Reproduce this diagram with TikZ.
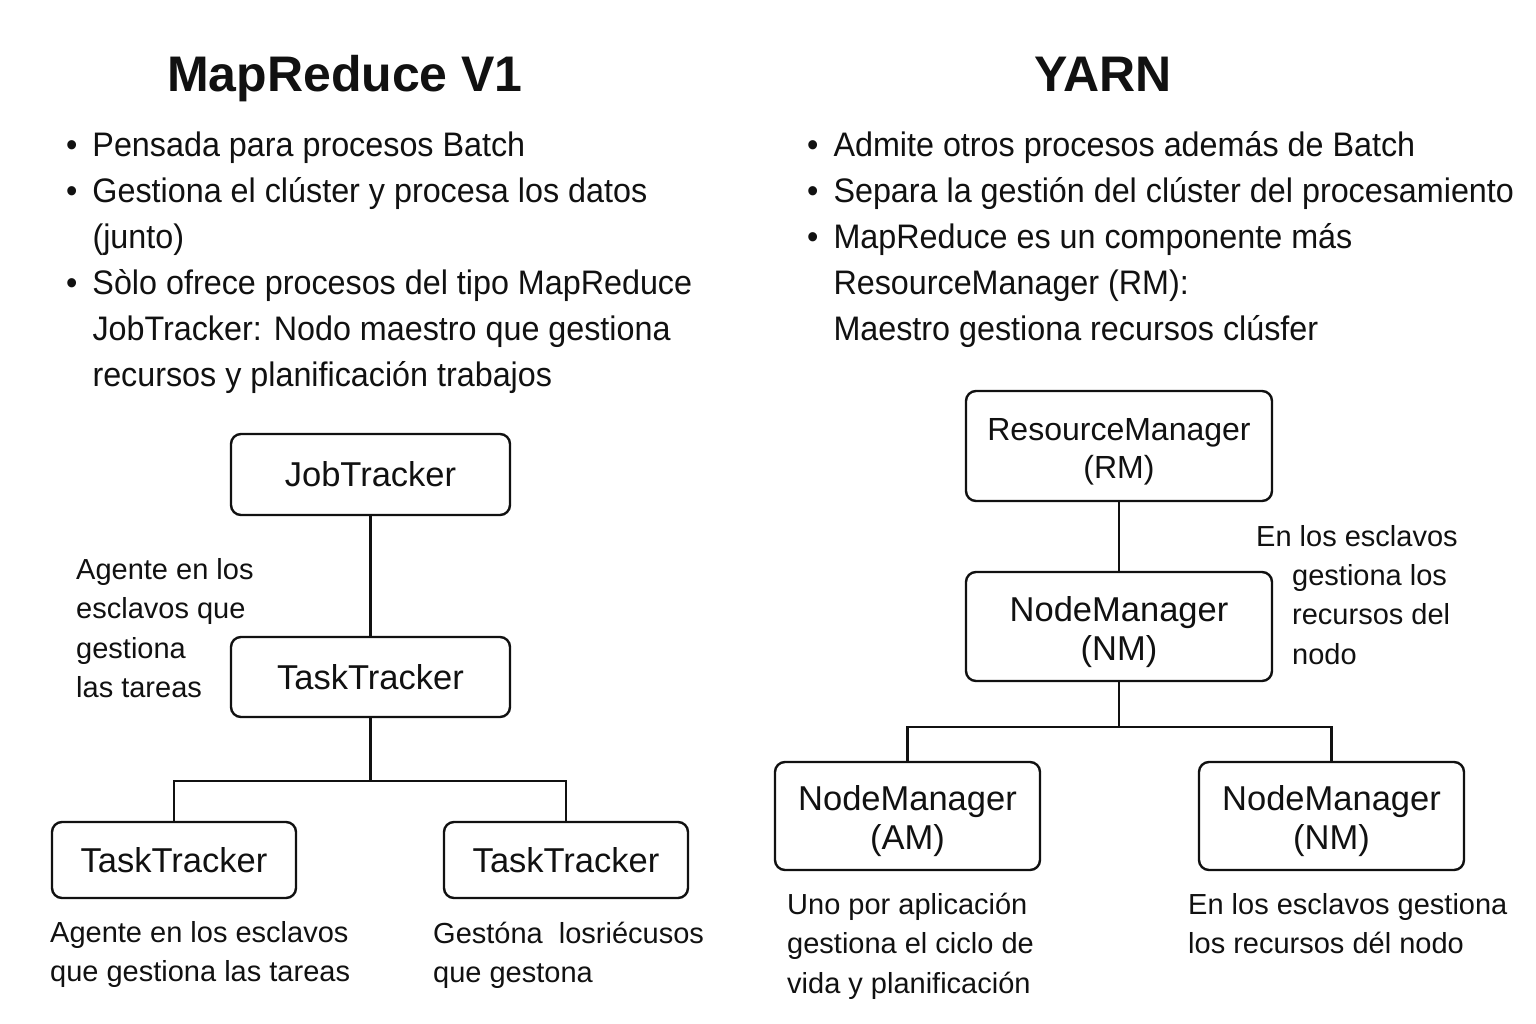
\documentclass[tikz,border=0pt]{standalone}
\usepackage{fontspec}
\setmainfont{Liberation Sans}
\newfontfamily\listfont[FakeStretch=0.95]{Liberation Sans}
\usetikzlibrary{positioning}
\definecolor{Ink}{HTML}{111111}
\newcommand{\stack}[1]{\begin{tabular}[t]{@{}l@{}}#1\end{tabular}}
\newcommand{\bullets}[1]{\begin{tabular}[t]{@{}l@{\hspace{15pt}}l@{}}#1\end{tabular}}
\newcommand{\twoline}[2]{\rule{0pt}{1.03em}#1\\#2}
\tikzset{heading/.style={font=\fontsize{50}{60}\selectfont\bfseries,text=Ink,inner sep=0pt,anchor=base},
  listtext/.style={font=\listfont\fontsize{34}{46}\selectfont,text=Ink,inner sep=0pt,anchor=base west},
  note/.style={font=\fontsize{29}{39.5}\selectfont,text=Ink,inner sep=0pt,anchor=base west},
  daemon/.style={draw=Ink,line width=2.4pt,rounded corners=10pt,fill=white,align=center,
    text=Ink,font=\fontsize{34.5}{39}\selectfont,inner sep=0pt},
  master/.style={daemon,font=\fontsize{32}{38}\selectfont},
  link/.style={draw=Ink,line width=2.4pt}}

\begin{document}
\begin{tikzpicture}[x=1pt,y=-1pt]
    \useasboundingbox[fill=white] (0,0) rectangle (1536,1024);
    % MapReduce V1
    \node[heading] (mrtitle) at (345,92) {MapReduce V1};
    \node[listtext] (mrlist) at (66,157) {\bullets{%
      \textbullet & Pensada para procesos Batch\\
      \textbullet & Gestiona el clúster y procesa los datos\\
                  & (junto)\\
      \textbullet & Sòlo ofrece procesos del tipo MapReduce\\
                  & JobTracker: Nodo maestro que gestiona\\
                  & recursos y planificación trabajos}};
    \node[daemon,minimum width=279,minimum height=81] (jt) at (370.5,474.5) {JobTracker};
    \node[daemon,minimum width=279,minimum height=80] (tt) at (370.5,677) {TaskTracker};
    \node[daemon,minimum width=244,minimum height=76] (ttl) at (174,860) {TaskTracker};
    \node[daemon,minimum width=244,minimum height=76] (ttr) at (566,860) {TaskTracker};
    \draw[link] (jt.south)--(tt.north);
    \draw[link] (tt.south)--++(0,63)-|(ttl.north);
    \draw[link] (tt.south)--++(0,63)-|(ttr.north);
    \node[note] (ttnote) at (76,579) {\stack{Agente en los\\esclavos que\\gestiona\\las tareas}};
    \node[note] (ttlnote) at (50,942) {\stack{Agente en los esclavos\\que gestiona las tareas}};
    \node[note] (ttrnote) at (433,943) {\stack{Gestóna\ \ losriécusos\\que gestona}};
    % YARN
    \node[heading] (yarntitle) at (1103,92) {YARN};
    \node[listtext] (yarnlist) at (807,157) {\bullets{%
      \textbullet & Admite otros procesos además de Batch\\
      \textbullet & Separa la gestión del clúster del procesamiento\\
      \textbullet & MapReduce es un componente más\\
                  & ResourceManager (RM):\\
                  & Maestro gestiona recursos clúsfer}};
    \node[master,minimum width=306,minimum height=110] (rm) at (1119,446) {\twoline{ResourceManager}{(RM)}};
    \node[daemon,minimum width=306,minimum height=109] (nm) at (1119,626.5) {\twoline{NodeManager}{(NM)}};
    \node[daemon,minimum width=265,minimum height=108] (am) at (907.5,816) {\twoline{NodeManager}{(AM)}};
    \node[daemon,minimum width=265,minimum height=108] (nmr) at (1331.5,816) {\twoline{NodeManager}{(NM)}};
    \draw[link] (rm.south)--(nm.north);
    \draw[link] (nm.south)--++(0,45)-|(am.north);
    \draw[link] (nm.south)--++(0,45)-|(nmr.north);
    \node[note] (nmnote) at (1256,546) {En los esclavos};
    \node[note] (nmnote2) at (1292,585) {\stack{gestiona los\\recursos del\\nodo}};
    \node[note] (amnote) at (787,914) {\stack{Uno por aplicación\\gestiona el ciclo de\\vida y planificación}};
    \node[note] (nmrnote) at (1188,914) {\stack{En los esclavos gestiona\\los recursos dél nodo}};
  \end{tikzpicture}
\end{document}
